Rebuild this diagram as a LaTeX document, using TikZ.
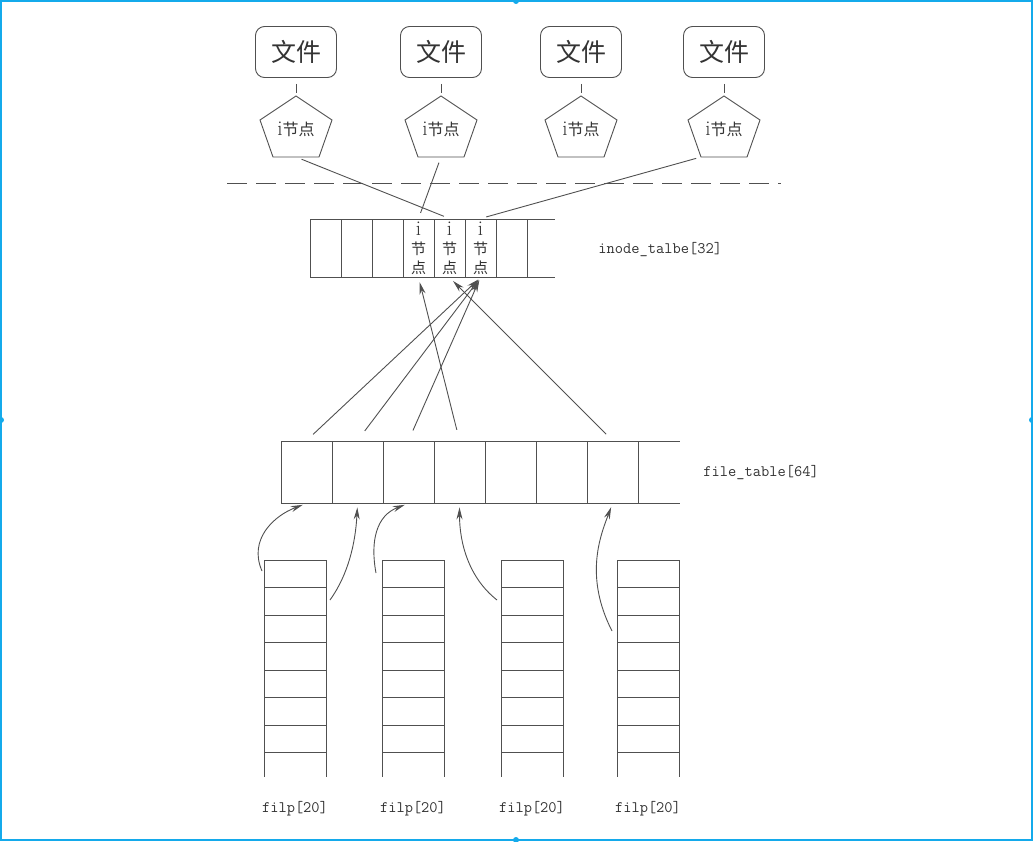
\documentclass[tikz,border=0pt]{standalone}
\usepackage{fontspec}
\usepackage{tikz}
\usetikzlibrary{arrows.meta}
\usetikzlibrary{calc}
\newfontfamily\cjk{Noto Sans CJK SC}
\definecolor{inkgray}{RGB}{80,80,80}
\definecolor{framecyan}{RGB}{20,170,235}
\newcommand{\drawarrow}{\draw[inkgray, -{Stealth[length=12pt,width=6pt]}]}
\newcommand{\bigi}{{\rmfamily\fontsize{21}{21}\selectfont i}}

\begin{document}
\begin{tikzpicture}[x=1pt, y=-1pt, line width=0.9pt,
    filebox/.style={draw=inkgray, rounded corners=9pt, minimum width=81pt, minimum height=51pt, inner sep=0pt, text=black!80, font=\cjk\fontsize{25}{25}\selectfont},
    inodetext/.style={inner sep=0pt, text=black!80, font=\fontsize{16}{16}\selectfont},
    celltext/.style={inner sep=0pt, align=center, text=black!80, font=\fontsize{15}{19}\selectfont},
    cellbox/.style={inner sep=0pt, minimum width=#1, minimum height=58pt},
    tablabel/.style={anchor=west, inner sep=0pt, text=black!80, font=\ttfamily\fontsize{16}{16}\selectfont}]
    \useasboundingbox (0,0) rectangle (1033,841);

    % Draw frame
    \draw[framecyan, line width=2pt] (1,1) rectangle (1032,840);
    \foreach \p in {(516,1), (1,420), (1032,420), (516,840)} {
        \fill[framecyan] \p circle (3);
    }

    % Draw files and inodes
    \foreach \i/\x in {1/296, 2/441, 3/581, 4/724} {
        \node[filebox] (f\i) at (\x, 52) {文件};
        \node[inodetext] (p\i) at (\x, 129) {\bigi{\cjk 节点}};
        \coordinate (pt\i) at ($(p\i)+(0,-33)$);
        \coordinate (pb\i) at ($(p\i)+(0,28)$);
        \coordinate (pl\i) at ($(p\i)+(-23,28)$);
        \draw[inkgray] (pt\i) -- ($(p\i)+(36,-9)$) -- ($(p\i)+(23,28)$) -- (pl\i) -- ($(p\i)+(-36,-9)$) -- cycle;
        \draw[inkgray, shorten <=6pt, shorten >=3pt] (f\i) -- (pt\i);
    }

    % Draw separator
    \coordinate (sepL) at (227, 183);
    \coordinate (sepR) at (781, 183);
    \draw[inkgray, dash pattern=on 20pt off 9pt] (sepL) -- (sepR);

    % Draw inode table
    \foreach \i in {1,...,7} {
        \node[cellbox=31pt] (ic\i) at (310+31*\i-15.5, 248) {};
    }
    \foreach \i in {0,...,7} {
        \draw[inkgray] (310+31*\i, 219) -- ++(0,58);
    }
    \draw[inkgray] (310,219) -- (555,219) (310,277) -- (555,277);
    \foreach \i in {4,5,6} {
        \node[celltext] (it\i) at (ic\i) {\bigi\\{\cjk 节}\\{\cjk 点}};
    }
    \node[tablabel] (inodelabel) at (598, 250) {inode\_talbe[32]};

    % Draw file table
    \foreach \i in {1,...,7} {
        \node[cellbox=51pt, minimum height=62pt] (fc\i) at (281+51*\i-25.5, 472) {};
    }
    \foreach \i in {0,...,7} {
        \draw[inkgray] (281+51*\i, 441) -- ++(0,62);
    }
    \draw[inkgray] (281,441) -- (680,441) (281,503) -- (680,503);
    \node[tablabel] (filelabel) at (703, 473) {file\_table[64]};

    % Draw filp arrays
    \foreach \j/\x in {1/264, 2/382, 3/501, 4/617} {
        \foreach \k in {0,...,7} {
            \draw[inkgray] (\x, 560+27.5*\k) -- ++(62,0);
        }
        \draw[inkgray] (\x,560) -- ++(0,217) (\x+62,560) -- ++(0,217);
        \node[tablabel, anchor=center] (fl\j) at (\x+31, 809) {filp[20]};
    }

    % Draw links between layers
    \draw[inkgray, shorten <=6pt, shorten >=6pt] (pb1) -- (ic5.north);
    \draw[inkgray, shorten <=6pt, shorten >=6pt] (pb2) -- (ic4.north);
    \draw[inkgray, shorten <=5pt, shorten >=6pt] (pl4) -- (ic6.north);

    \drawarrow[shorten <=9pt, shorten >=3pt] (fc1.north) -- (ic6.south);
    \drawarrow[shorten <=12pt, shorten >=3pt] (fc2.north) -- (ic6.south);
    \drawarrow[shorten <=11pt, shorten >=3pt] (fc3.north) -- (ic6.south);
    \drawarrow[shorten <=11pt, shorten >=5pt] (fc4.north) -- (ic4.south);
    \drawarrow[shorten <=9pt, shorten >=5pt] (fc7.north) -- (ic5.south);

    % Draw pointers from filp
    \coordinate (s1) at (262, 571);
    \coordinate (s2) at (330, 600);
    \coordinate (s3) at (376, 573);
    \coordinate (s4) at (497, 600);
    \coordinate (s5) at (612, 631);
    \drawarrow[shorten >=4pt] (s1) .. controls +(-14,-32) and +(-32,12) .. (fc1.south);
    \drawarrow[shorten >=4pt] (s2) .. controls +(18,-25) and +(-2,40) .. (fc2.south);
    \drawarrow[shorten >=4pt] (s3) .. controls +(-6,-32) and +(-32,12) .. (fc3.south);
    \drawarrow[shorten >=4pt] (s4) .. controls +(-28,-22) and +(0,40) .. (fc4.south);
    \drawarrow[shorten >=4pt] (s5) .. controls +(-28,-55) and +(-12,32) .. (fc7.south);
\end{tikzpicture}
\end{document}
